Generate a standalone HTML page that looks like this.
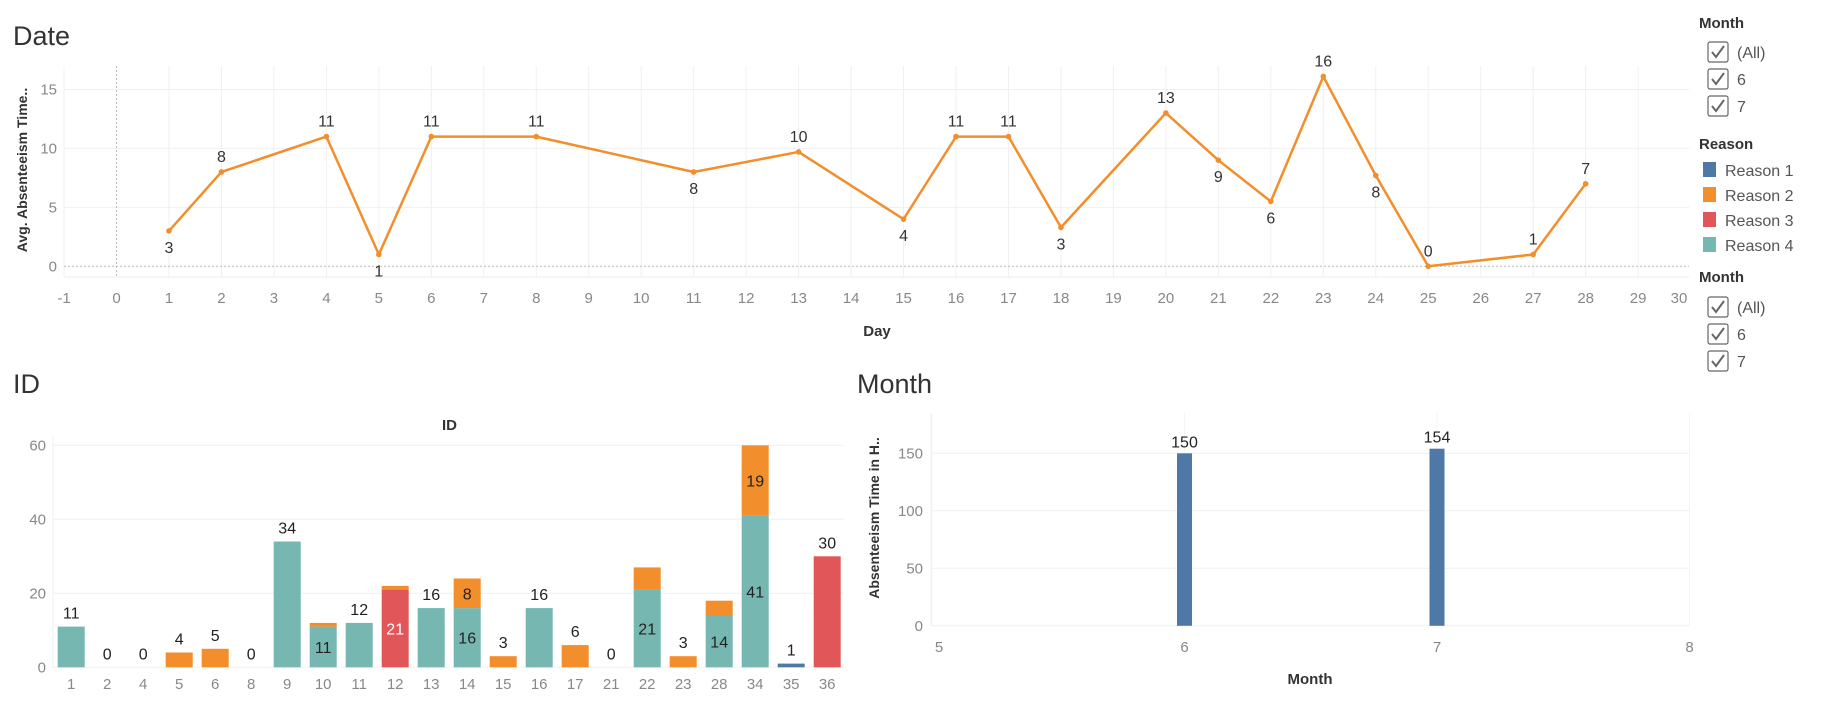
<!DOCTYPE html>
<html><head><meta charset="utf-8"><style>
body{margin:0;background:#fff;width:1825px;height:699px;overflow:hidden;font-family:"Liberation Sans",sans-serif}
svg text{font-family:"Liberation Sans",sans-serif}
</style></head><body>
<svg id="svg" width="1825" height="699" viewBox="0 0 1825 699" xmlns="http://www.w3.org/2000/svg">
<text x="13" y="45" font-size="27" fill="#333">Date</text>
<text x="13" y="393" font-size="27" fill="#333">ID</text>
<text x="857" y="393" font-size="27" fill="#333">Month</text>
<g id="top"></g>
<g id="idc"></g>
<g id="mon"></g>
<g id="leg"></g>
</svg>
<script>
const NS="http://www.w3.org/2000/svg";
function mk(p,t,a,txt){const e=document.createElementNS(NS,t);for(const k in a)e.setAttribute(k,a[k]);if(txt!==undefined)e.textContent=txt;p.appendChild(e);return e;}
// ---- Date line chart data ----
const days=[1,2,4,5,6,8,11,13,15,16,17,18,20,21,22,23,24,25,27,28];
const avgVals=[3,8,11,1,11,11,8,9.7,4,11,11,3.3,13,9,5.5,16.1,7.7,0,1,7];
const labelSide=['b','a','a','b','a','a','b','a','b','a','a','b','a','b','b','a','b','a','a','a'];
const dayTicks=[-1,0,1,2,3,4,5,6,7,8,9,10,11,12,13,14,15,16,17,18,19,20,21,22,23,24,25,26,27,28,29,30];
const avgTicks=[0,5,10,15];
// ---- ID chart data ----
const ids=['1','2','4','5','6','8','9','10','11','12','13','14','15','16','17','21','22','23','28','34','35','36'];
const r1=[0,0,0,0,0,0,0,0,0,0,0,0,0,0,0,0,0,0,0,0,1,0];
const r2=[0,0,0,4,5,0,0,1,0,1,0,8,3,0,6,0,6,3,4,19,0,0];
const r3=[0,0,0,0,0,0,0,0,0,21,0,0,0,0,0,0,0,0,0,0,0,30];
const r4=[11,0,0,0,0,0,34,11,12,0,16,16,0,16,0,0,21,0,14,41,0,0];
const idTicks=[0,20,40,60];
// ---- Month chart data ----
const months=[6,7];
const monthVals=[150,154];
const monthXTicks=[5,6,7,8];
const monthYTicks=[0,50,100,150];
const colors=['#4e79a7','#f28e2b','#e15759','#76b7b2'];

// ===== Top chart =====
(function(){
const g=document.getElementById('top');
const x=d=>116.5+d*52.47, y=v=>266.3-v*11.79;
dayTicks.forEach(d=>{const xx=x(d);
 if(xx<1689&&d!==0){const l=mk(g,'line',{x1:xx,x2:xx,y1:66,y2:277,stroke:'#f0f0f0'});}
 const t=mk(g,'text',{x:Math.min(xx,1679),y:303,'font-size':15,fill:'#888','text-anchor':'middle'},String(d));
 });
avgTicks.forEach(v=>{
 if(v>0)mk(g,'line',{x1:64,x2:1689,y1:y(v),y2:y(v),stroke:'#f0f0f0'});
 const t=mk(g,'text',{x:57,y:y(v)+5,'font-size':15,fill:'#888','text-anchor':'end'},String(v));
 });
mk(g,'line',{x1:64,x2:1689,y1:277,y2:277,stroke:'#eee'});
mk(g,'line',{x1:64,x2:1689,y1:y(0),y2:y(0),stroke:'#bbb','stroke-dasharray':'2,2'});
mk(g,'line',{x1:x(0),x2:x(0),y1:66,y2:277,stroke:'#bbb','stroke-dasharray':'2,2'});
const pl=mk(g,'polyline',{points:days.map((d,i)=>x(d)+','+y(avgVals[i])).join(' '),fill:'none',stroke:'#f28e2b','stroke-width':2.5,'stroke-linejoin':'round'});

days.forEach((d,i)=>{
 const c=mk(g,'circle',{cx:x(d),cy:y(avgVals[i]),r:2.8,fill:'#f28e2b'});
 
 const yy=labelSide[i]==='a'?y(avgVals[i])-10:y(avgVals[i])+22;
 const t=mk(g,'text',{x:x(d),y:yy,'font-size':16,fill:'#333','text-anchor':'middle'},String(Math.round(avgVals[i])));
 });
const yt=mk(g,'text',{transform:'translate(27,170) rotate(-90)','font-size':14,'font-weight':'bold',fill:'#333','text-anchor':'middle'},'Avg. Absenteeism Time..');

const xt=mk(g,'text',{x:877,y:336,'font-size':15,'font-weight':'bold',fill:'#333','text-anchor':'middle'},'Day');

})();

// ===== ID chart =====
(function(){
const g=document.getElementById('idc');
const x=i=>71.2+i*36, y=v=>667.3-v*3.7;
const st=mk(g,'text',{x:449.5,y:430,'font-size':15,'font-weight':'bold',fill:'#333','text-anchor':'middle'},'ID');

idTicks.forEach(v=>{
 mk(g,'line',{x1:53,x2:844,y1:y(v),y2:y(v),stroke:'#f0f0f0'});
 const t=mk(g,'text',{x:46,y:y(v)+5,'font-size':15,fill:'#888','text-anchor':'end'},String(v));
 });
mk(g,'line',{x1:53,x2:53,y1:435,y2:668,stroke:'#f0f0f0'});
const series=[r4,r3,r2,r1]; const sc=[3,2,1,0];
ids.forEach((id,i)=>{
 let base=0,nz=0,tot=0;
 series.forEach(s=>{if(s[i]>0)nz++;tot+=s[i];});
 series.forEach((s,k)=>{const v=s[i];if(v<=0)return;
  const r=mk(g,'rect',{x:x(i)-13.5,y:y(base+v),width:27,height:v*3.7,fill:colors[sc[k]]});
  
  if(nz>1&&v>=7){const t=mk(g,'text',{x:x(i),y:y(base+v/2)+6,'font-size':16,fill:sc[k]===2?'#fff':'#222','text-anchor':'middle'},String(v));
   }
  base+=v;});
 if(nz<=1){const t=mk(g,'text',{x:x(i),y:y(tot)-8,'font-size':16,fill:'#222','text-anchor':'middle'},String(tot));
  }
 const t=mk(g,'text',{x:x(i),y:689,'font-size':15,fill:'#888','text-anchor':'middle'},id);
 });
})();

// ===== Month chart =====
(function(){
const g=document.getElementById('mon');
const x=m=>932+(m-5)*252.5, y=v=>625.8-v*1.15;
monthYTicks.forEach(v=>{
 mk(g,'line',{x1:931,x2:1690,y1:y(v),y2:y(v),stroke:'#f0f0f0'});
 const t=mk(g,'text',{x:923,y:y(v)+5,'font-size':15,fill:'#888','text-anchor':'end'},String(v));
 });
mk(g,'line',{x1:931,x2:931,y1:413,y2:626,stroke:'#f0f0f0'});
monthXTicks.forEach(m=>{
 mk(g,'line',{x1:x(m),x2:x(m),y1:413,y2:626,stroke:'#f5f5f5'});
 const t=mk(g,'text',{x:x(m)+(m===5?7:0),y:652,'font-size':15,fill:'#888','text-anchor':'middle'},String(m));
 });
months.forEach((m,i)=>{
 const r=mk(g,'rect',{x:x(m)-7.5,y:y(monthVals[i]),width:15,height:monthVals[i]*1.15,fill:'#4e79a7'});
 
 const t=mk(g,'text',{x:x(m),y:y(monthVals[i])-6,'font-size':16,fill:'#222','text-anchor':'middle'},String(monthVals[i]));
 });
const yt=mk(g,'text',{transform:'translate(879,518) rotate(-90)','font-size':14,'font-weight':'bold',fill:'#333','text-anchor':'middle'},'Absenteeism Time in H..');

const xt=mk(g,'text',{x:1310,y:684,'font-size':15,'font-weight':'bold',fill:'#333','text-anchor':'middle'},'Month');

})();

// ===== Legend / filters =====
(function(){
const g=document.getElementById('leg');
function title(y,s,n){const t=mk(g,'text',{x:1699,y:y,'font-size':15,'font-weight':'bold',fill:'#333'},s);}
function cb(cy,s){
 const r=mk(g,'rect',{x:1708,y:cy-10,width:20,height:20,rx:2,fill:'#fff',stroke:'#666','stroke-width':1.2});
 
 mk(g,'path',{d:`M${1712},${cy} l4,5 l8,-11`,fill:'none',stroke:'#666','stroke-width':2});
 const t=mk(g,'text',{x:1737,y:cy+6,'font-size':16,fill:'#555'},s);
 }
title(28,'Month','month-filter-title');cb(52,'(All)');cb(79,'6');cb(106,'7');
title(149,'Reason','reason-legend-title');
['Reason 1','Reason 2','Reason 3','Reason 4'].forEach((s,i)=>{const cy=170+i*25;
 const r=mk(g,'rect',{x:1703,y:cy-8,width:13,height:15,fill:colors[i]});
 
 const t=mk(g,'text',{x:1725,y:cy+6,'font-size':16,fill:'#555'},s);
 });
title(282,'Month','month-filter-title-2');cb(307,'(All)');cb(334,'6');cb(361,'7');
})();
</script>
</body></html>
